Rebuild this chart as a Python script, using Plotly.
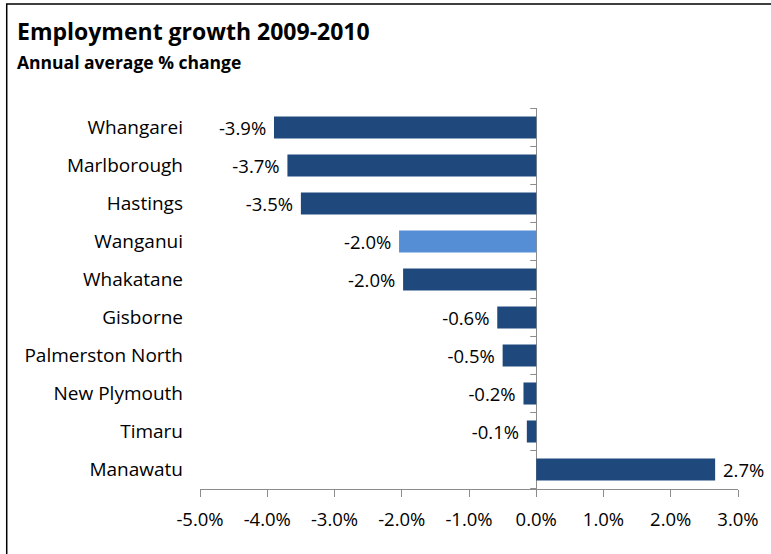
import plotly.graph_objects as go

# Employment growth by district, annual average % change 2009-2010
districts = ["Whangarei", "Marlborough", "Hastings", "Wanganui", "Whakatane",
             "Gisborne", "Palmerston North", "New Plymouth", "Timaru", "Manawatu"]
growth = [-3.9, -3.7, -3.5, -2.04, -1.98, -0.58, -0.50, -0.19, -0.14, 2.66]
highlight = "Wanganui"

x_ticks = [-5, -4, -3, -2, -1, 0, 1, 2, 3]
x_tick_text = [f"{v:.1f}%" for v in x_ticks]

DARK = "#1F497D"
LIGHT = "#558ED5"
FONT = "Open Sans"
NBSP = "\u00a0"

colors = [LIGHT if d == highlight else DARK for d in districts]
# value labels, padded on the side that faces the bar
labels = [("%{x:.1f}%" + NBSP) if v < 0 else (NBSP + "%{x:.1f}%") for v in growth]

fig = go.Figure(go.Bar(
    x=growth,
    y=districts,
    orientation="h",
    marker=dict(color=colors, line=dict(width=0)),
    texttemplate=labels,
    textposition="outside",
    constraintext="none",
    textfont=dict(family=FONT, size=18.5, color="#000000"),
    cliponaxis=False,
    hoverinfo="skip",
))

# plot-area pixel geometry, used to place the outer frame
L, R, T, B = 200, 31, 108, 65
W, H = 771, 554
pw, ph = W - L - R, H - T - B

def px_x(p):
    return (p - L) / pw

def px_y(p):
    return (H - B - p) / ph

shapes = [
    # outer frame (runs off the right and bottom edges)
    dict(type="rect", xref="paper", yref="paper",
         x0=px_x(6), x1=px_x(W + 10), y0=px_y(H + 10), y1=px_y(4),
         line=dict(color="#000000", width=1.5), fillcolor="rgba(0,0,0,0)",
         layer="below"),
]
# small tick marks on the zero line at each category boundary
for k in range(len(districts) + 1):
    shapes.append(dict(
        type="line", xref="x", yref="y", xsizemode="pixel", xanchor=0,
        x0=-6, x1=0, y0=k - 0.5, y1=k - 0.5,
        line=dict(color="#8C8C8C", width=1),
    ))

fig.update_layout(
    width=W, height=H,
    margin=dict(l=L, r=R, t=T, b=B, pad=0),
    paper_bgcolor="white", plot_bgcolor="white",
    showlegend=False,
    bargap=0.42,
    font=dict(family=FONT, color="#000000"),
    shapes=shapes,
    annotations=[
        dict(text="<b>Employment growth 2009-2010</b>", xref="paper", yref="paper",
             x=px_x(14), y=px_y(31), xanchor="left", yanchor="middle",
             showarrow=False, font=dict(family=FONT, size=23, color="#000000")),
        dict(text="<b>Annual average % change</b>", xref="paper", yref="paper",
             x=px_x(14), y=px_y(62), xanchor="left", yanchor="middle",
             showarrow=False, font=dict(family=FONT, size=17.5, color="#000000")),
    ],
    xaxis=dict(
        range=[-5, 3], tickvals=x_ticks, ticktext=x_tick_text,
        showgrid=False, zeroline=True, zerolinecolor="#8C8C8C", zerolinewidth=1,
        showline=True, linecolor="#8C8C8C", linewidth=1,
        ticks="outside", ticklen=7, tickcolor="#8C8C8C",
        ticklabelstandoff=7,
        tickfont=dict(family=FONT, size=18.5, color="#000000"),
        fixedrange=True,
    ),
    yaxis=dict(
        categoryorder="array", categoryarray=districts, autorange="reversed",
        showgrid=False, zeroline=False, showline=False, ticks="",
        ticklabelstandoff=16,
        tickfont=dict(family=FONT, size=19, color="#000000"),
        fixedrange=True,
    ),
)

fig.write_html("out.html")
